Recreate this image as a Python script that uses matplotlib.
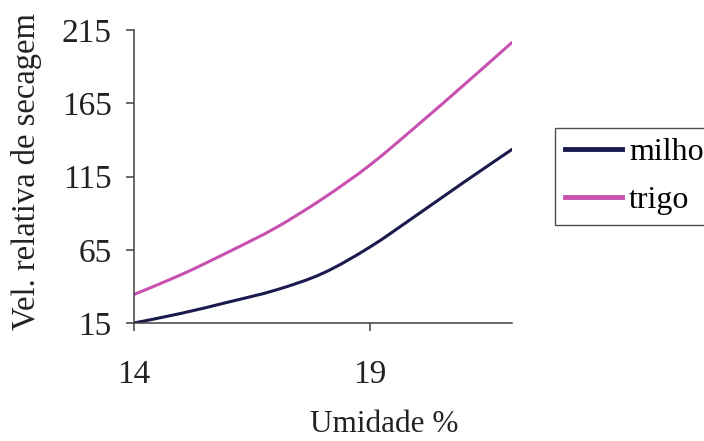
import matplotlib
matplotlib.use("Agg")
import matplotlib.pyplot as plt
from matplotlib.path import Path
from matplotlib.patches import PathPatch
from matplotlib.lines import Line2D

umidade = [14, 15, 16, 17, 18, 19, 20, 21, 22]
milho = [15, 21.6, 29.3, 37.5, 49, 67, 89, 111.5, 133.5]
trigo = [34.5, 48, 63.5, 80, 100, 123, 150, 178, 206.5]

yticks = [15, 65, 115, 165, 215]
xticks = [14, 19]

cor_milho = "#1a1a4e"
cor_trigo = "#c850b0"

plt.rcParams["font.family"] = ["Liberation Serif", "DejaVu Serif"]


def smooth_path(xs, ys):
    # linha suavizada (tipo Excel): bezier passando pelos pontos
    verts = [(xs[0], ys[0])]
    codes = [Path.MOVETO]
    n = len(xs)
    for i in range(n - 1):
        x0, y0 = (xs[i - 1], ys[i - 1]) if i > 0 else (xs[i], ys[i])
        x1, y1 = xs[i], ys[i]
        x2, y2 = xs[i + 1], ys[i + 1]
        x3, y3 = (xs[i + 2], ys[i + 2]) if i + 2 < n else (x2, y2)
        c1 = (x1 + (x2 - x0) / 6, y1 + (y2 - y0) / 6)
        c2 = (x2 - (x3 - x1) / 6, y2 - (y3 - y1) / 6)
        verts += [c1, c2, (x2, y2)]
        codes += [Path.CURVE4] * 3
    return Path(verts, codes)


fig = plt.figure(figsize=(7.04, 4.41), dpi=100)
ax = fig.add_axes([134 / 704, 1 - 323 / 441, 378 / 704, 293 / 441])

for ys, cor in [(milho, cor_milho), (trigo, cor_trigo)]:
    ax.add_patch(PathPatch(smooth_path(umidade, ys), fill=False,
                           edgecolor=cor, lw=2.2, capstyle="round"))

ax.set_xlim(14, 22)
ax.set_ylim(15, 215)
ax.set_xticks(xticks)
ax.set_yticks(yticks)
ax.tick_params(axis="both", labelsize=24, length=6, width=1.1,
               color="#404040", labelcolor="#222222")
ax.tick_params(axis="x", pad=20)
ax.tick_params(axis="y", pad=10)

for s in ["top", "right"]:
    ax.spines[s].set_visible(False)
for s in ["left", "bottom"]:
    ax.spines[s].set_color("#404040")
    ax.spines[s].set_linewidth(1.1)

fig.text(27 / 704, 1 - 172 / 441, "Vel. relativa de secagem", rotation=90,
         ha="center", va="center", fontsize=23.5, color="#222222")
fig.text(384 / 704, 1 - 425 / 441, "Umidade %", ha="center", va="center",
         fontsize=22.5, color="#222222")

handles = [Line2D([], [], color=cor_milho, lw=3.5),
           Line2D([], [], color=cor_trigo, lw=3.5)]
leg = fig.legend(handles, ["milho", "trigo"], loc="upper left",
                 bbox_to_anchor=(555 / 704, 1 - 128 / 441),
                 borderaxespad=0, fontsize=23, handlelength=1.8,
                 handletextpad=0.22, labelspacing=0.6, borderpad=0.3,
                 fancybox=False, edgecolor="#222222")
leg.get_frame().set_linewidth(1.0)

fig.savefig("out.png", dpi=100)
